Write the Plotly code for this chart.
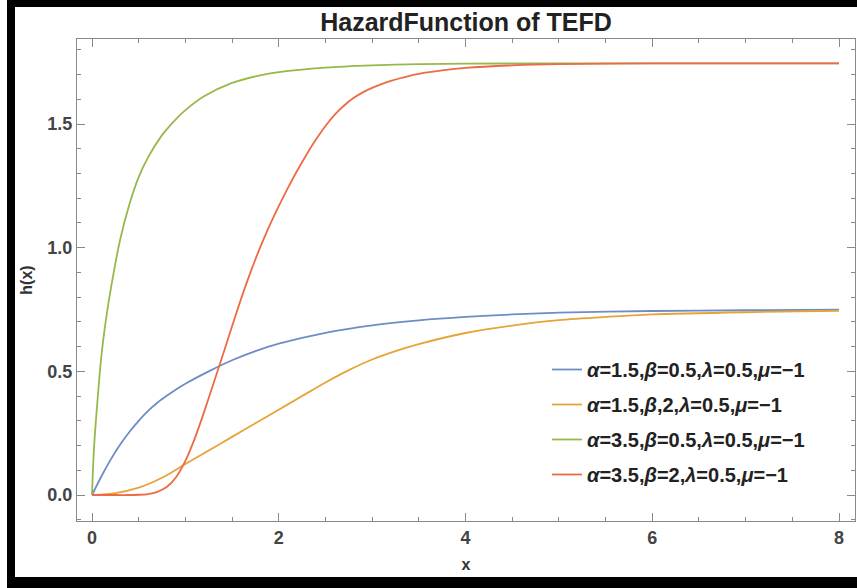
import plotly.graph_objects as go

# ---- data ----
x_blue = [0, 0.1, 0.2, 0.3, 0.4, 0.5, 0.6, 0.7, 0.8, 0.9, 1.0, 1.25, 1.5, 1.75, 2.0, 2.5, 3.0, 3.5, 4.0, 4.5, 5.0, 6.0, 7.0, 8.0]
y_blue = [0, 0.075, 0.143, 0.203, 0.255, 0.30, 0.34, 0.373, 0.401, 0.427, 0.45, 0.50, 0.545, 0.582, 0.612, 0.656, 0.686, 0.706, 0.72, 0.73, 0.737, 0.744, 0.747, 0.749]

x_orange = [0, 0.25, 0.5, 0.75, 1.0, 1.25, 1.5, 1.75, 2.0, 2.25, 2.5, 2.75, 3.0, 3.25, 3.5, 4.0, 4.5, 5.0, 5.5, 6.0, 7.0, 8.0]
y_orange = [0, 0.008, 0.03, 0.07, 0.125, 0.18, 0.235, 0.29, 0.345, 0.40, 0.455, 0.505, 0.548, 0.582, 0.61, 0.655, 0.685, 0.707, 0.72, 0.73, 0.739, 0.745]

x_green = [0, 0.02, 0.05, 0.1, 0.15, 0.2, 0.3, 0.4, 0.5, 0.6, 0.75, 0.9, 1.0, 1.2, 1.5, 1.8, 2.0, 2.5, 3.0, 3.5, 4.0, 5.0, 6.0, 7.0, 8.0]
y_green = [0, 0.18, 0.34, 0.56, 0.71, 0.83, 1.03, 1.175, 1.285, 1.365, 1.455, 1.52, 1.556, 1.612, 1.666, 1.697, 1.71, 1.728, 1.737, 1.742, 1.744, 1.745, 1.745, 1.745, 1.745]

x_red = [0, 0.2, 0.4, 0.5, 0.6, 0.7, 0.8, 0.9, 1.0, 1.1, 1.2, 1.3, 1.4, 1.5, 1.6, 1.7, 1.8, 1.9, 2.0, 2.1, 2.2, 2.3, 2.4, 2.5, 2.6, 2.7, 2.8, 2.9, 3.0, 3.1, 3.2, 3.3, 3.4, 3.5, 3.75, 4.0, 4.5, 5.0, 6.0, 7.0, 8.0]
y_red = [0, 0, 0, 0.001, 0.004, 0.013, 0.032, 0.072, 0.138, 0.228, 0.335, 0.45, 0.565, 0.682, 0.797, 0.903, 1.0, 1.088, 1.168, 1.243, 1.313, 1.378, 1.438, 1.492, 1.538, 1.575, 1.605, 1.628, 1.646, 1.661, 1.674, 1.685, 1.695, 1.703, 1.717, 1.727, 1.737, 1.742, 1.745, 1.745, 1.745]

series_names = [
    "<i>α</i>=1.5,<i>β</i>=0.5,<i>λ</i>=0.5,<i>μ</i>=−1",
    "<i>α</i>=1.5,<i>β</i>,2,<i>λ</i>=0.5,<i>μ</i>=−1",
    "<i>α</i>=3.5,<i>β</i>=0.5,<i>λ</i>=0.5,<i>μ</i>=−1",
    "<i>α</i>=3.5,<i>β</i>=2,<i>λ</i>=0.5,<i>μ</i>=−1",
]
series_colors = ["#6f8cc4", "#e5a536", "#97b84a", "#ee6a45"]

x_ticks = [0, 2, 4, 6, 8]
y_ticks = [0.0, 0.5, 1.0, 1.5]

# ---- geometry (pixels) ----
W, H = 857, 588
L, R, T, B = 77, 855, 39, 521

def px_to_paper_x(px):
    return (px - L) / (R - L)

def px_to_paper_y(py):
    return (B - py) / (B - T)

fig = go.Figure()
for i, (xs, ys) in enumerate([(x_blue, y_blue), (x_orange, y_orange), (x_green, y_green), (x_red, y_red)]):
    fig.add_trace(go.Scatter(
        x=xs, y=ys, mode="lines", name=series_names[i],
        legendgroup="g%d" % i,
        line=dict(color=series_colors[i], width=1.8, shape="spline", smoothing=0.8),
    ))

axis_common = dict(
    showline=True, linecolor="#8a8a8a", linewidth=1.2, mirror="allticks",
    ticks="inside", ticklen=8, tickwidth=1, tickcolor="#8a8a8a",
    showgrid=False, zeroline=False,
    tickfont=dict(family="Arial", size=18, color="#444444", weight="bold"),
)

fig.update_xaxes(
    range=[-0.1606, 8.171], tickvals=x_ticks, ticktext=[str(v) for v in x_ticks],
    minor=dict(dtick=0.5, tick0=0, ticks="inside", ticklen=4, tickcolor="#8a8a8a", showgrid=False),
    title=dict(text="x", font=dict(family="Arial", size=16, color="#333333", weight="bold"), standoff=12),
    **axis_common,
)
fig.update_yaxes(
    range=[-0.1051, 1.8437], tickvals=y_ticks, ticktext=["%.1f" % v for v in y_ticks],
    minor=dict(dtick=0.1, tick0=0, ticks="inside", ticklen=4, tickcolor="#8a8a8a", showgrid=False),
    title=dict(text="h(x)", font=dict(family="Arial", size=16, color="#333333", weight="bold"), standoff=10),
    **axis_common,
)

shapes = []
# black picture frame
for (x0, x1, y0, y1) in [(7, 15, 0, 588), (7, 857, 0, 7), (7, 857, 577, 588)]:
    shapes.append(dict(type="rect", xref="paper", yref="paper",
                       x0=px_to_paper_x(x0), x1=px_to_paper_x(x1),
                       y0=px_to_paper_y(y1), y1=px_to_paper_y(y0),
                       fillcolor="black", line=dict(width=0), layer="above"))

fig.update_layout(
    width=W, height=H,
    margin=dict(l=L, r=W - R, t=T, b=H - B),
    paper_bgcolor="white", plot_bgcolor="white",
    title=dict(text="HazardFunction of TEFD", x=px_to_paper_x(466), xref="paper", xanchor="center",
               y=1 - 22 / H, yanchor="middle",
               font=dict(family="Arial", size=25, color="#222222", weight="bold")),
    showlegend=True,
    legend=dict(x=px_to_paper_x(547), y=px_to_paper_y(350), xanchor="left", yanchor="top",
                bgcolor="rgba(0,0,0,0)", tracegroupgap=6,
                font=dict(family="Arial", size=20, color="#222222", weight="bold")),
    shapes=shapes,
)

fig.write_html("out.html")
